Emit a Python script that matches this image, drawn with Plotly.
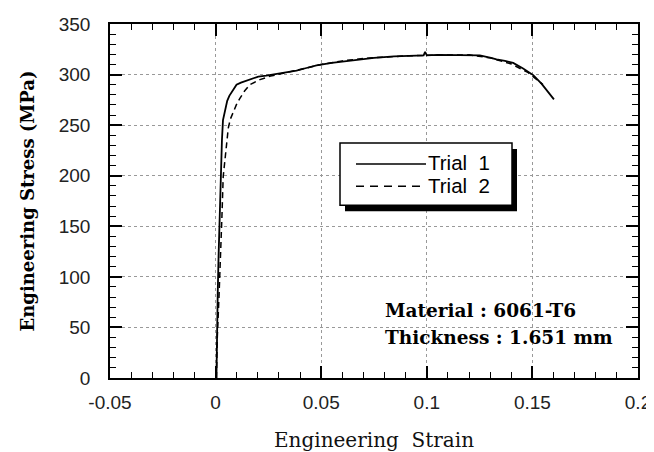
import plotly.graph_objects as go

# ---------------- data ----------------
trial1_strain = [0.0004, 0.0006, 0.001, 0.0014, 0.0018, 0.0022, 0.0026, 0.003, 0.0035,
                 0.0045, 0.0055, 0.0065, 0.0076, 0.0088, 0.0099, 0.012, 0.0147, 0.0175,
                 0.0202, 0.024, 0.0289, 0.0335, 0.0383, 0.043, 0.0478, 0.055, 0.062,
                 0.0681, 0.075, 0.0845, 0.09, 0.0963, 0.0985, 0.0992, 0.1, 0.105, 0.1122,
                 0.1222, 0.1251, 0.1304, 0.133, 0.137, 0.1409, 0.1456, 0.1504, 0.1543,
                 0.1575, 0.1602]
trial1_stress = [0, 40, 83, 120, 150, 185, 215, 235, 255,
                 266, 274, 279, 283, 287, 290, 292, 294, 296,
                 298, 299, 300.5, 302, 304, 306.5, 309, 311.5, 313.5,
                 315, 316.5, 318, 318.5, 318.5, 319, 322.5, 319, 319.5, 319.5,
                 319.5, 319, 316.5, 315, 313.5, 311.5, 306, 299.5, 291,
                 283, 275.5]

trial2_strain = [0.0004, 0.0008, 0.0016, 0.0024, 0.003, 0.0036, 0.0044, 0.0052, 0.006,
                 0.007, 0.0083, 0.0098, 0.0115, 0.0138, 0.0162, 0.021, 0.026, 0.032,
                 0.04, 0.05, 0.06, 0.07, 0.08, 0.09, 0.1, 0.11, 0.12, 0.13, 0.14,
                 0.148, 0.155]
trial2_stress = [0, 40, 80, 120, 160, 199, 217, 233, 247,
                 256, 263, 270, 276.5, 284, 290, 295, 298.5, 301,
                 305, 310, 313.5, 316, 317.5, 318.5, 319, 319.5, 319.5, 316.5, 310.5,
                 302, 290]

x_tick_vals = [-0.05, 0, 0.05, 0.1, 0.15, 0.2]
x_tick_text = ["-0.05", "0", "0.05", "0.1", "0.15", "0.2"]
y_tick_vals = [0, 50, 100, 150, 200, 250, 300, 350]
y_tick_text = ["0", "50", "100", "150", "200", "250", "300", "350"]

series_names = ["Trial 1", "Trial 2"]
note_lines = ["Material : 6061-T6", "Thickness : 1.651 mm"]

# ---------------- layout geometry (screen pixels) ----------------
OFF = 8                      # default page body margin
W, H = 654 - OFF, 452 - OFF  # figure size so it fits the window
L, R, T, B = 110, 638, 24, 377.7   # plot frame in window pixels


def px(xp):
    return (xp - L) / (R - L)


def py(yp):
    return (B - yp) / (B - T)


fig = go.Figure()
fig.add_trace(go.Scatter(x=trial1_strain, y=trial1_stress, mode="lines",
                         name=series_names[0], showlegend=False,
                         line=dict(color="black", width=1.8)))
fig.add_trace(go.Scatter(x=trial2_strain, y=trial2_stress, mode="lines",
                         name=series_names[1], showlegend=False,
                         line=dict(color="black", width=1.5, dash="6px,4px")))

tickfont = dict(family="Liberation Sans", size=19, color="#222")
fig.update_xaxes(range=[-0.05, 0.2], tickvals=x_tick_vals, ticktext=x_tick_text,
                 ticks="inside", ticklen=12, tickwidth=1.5, tickcolor="black",
                 showline=True, linecolor="black", linewidth=1.5, mirror="allticks",
                 showgrid=True, gridcolor="#999", griddash="dot", gridwidth=1,
                 zeroline=False, tickfont=tickfont, ticklabelstandoff=6,
                 automargin=False,
                 minor=dict(ticks="inside", ticklen=6, tickwidth=1.2, dtick=0.01,
                            tickcolor="black", showgrid=False),
                 title=dict(text="Engineering\u00a0\u00a0Strain",
                            font=dict(family="DejaVu Serif", size=20, color="#111"),
                            standoff=22))
fig.update_yaxes(range=[0, 350], tickvals=y_tick_vals, ticktext=y_tick_text,
                 ticks="inside", ticklen=12, tickwidth=1.5, tickcolor="black",
                 showline=True, linecolor="black", linewidth=1.5, mirror="allticks",
                 showgrid=True, gridcolor="#999", griddash="dot", gridwidth=1,
                 zeroline=False, tickfont=tickfont, ticklabelstandoff=14,
                 automargin=False,
                 minor=dict(ticks="inside", ticklen=6, tickwidth=1.2, dtick=10,
                            tickcolor="black", showgrid=False),
                 title=dict(text="<b>Engineering Stress (MPa)</b>",
                            font=dict(family="DejaVu Serif", size=18, color="black"),
                            standoff=19))

shapes = []
# legend shadow and box
shapes.append(dict(type="rect", xref="paper", yref="paper",
                   x0=px(345), x1=px(517), y0=py(211), y1=py(149),
                   fillcolor="black", line=dict(width=0), layer="above"))
shapes.append(dict(type="rect", xref="paper", yref="paper",
                   x0=px(340), x1=px(512), y0=py(205), y1=py(143),
                   fillcolor="white", line=dict(color="black", width=1.5), layer="above"))
shapes.append(dict(type="line", xref="paper", yref="paper",
                   x0=px(356), x1=px(426), y0=py(164), y1=py(164),
                   line=dict(color="black", width=1.5), layer="above"))
shapes.append(dict(type="line", xref="paper", yref="paper",
                   x0=px(356), x1=px(426), y0=py(186), y1=py(186),
                   line=dict(color="black", width=1.5, dash="8px,6px"), layer="above"))

annotations = []
for name, yy in zip(series_names, [162.5, 185.5]):
    annotations.append(dict(xref="paper", yref="paper", x=px(426), y=py(yy),
                            xanchor="left", yanchor="middle", showarrow=False,
                            text=name.replace(" ", "\u00a0\u00a0"),
                            font=dict(family="Liberation Sans", size=20.5, color="black")))
for txt, yy in zip(note_lines, [310, 337]):
    annotations.append(dict(xref="paper", yref="paper", x=px(383), y=py(yy),
                            xanchor="left", yanchor="middle", showarrow=False,
                            text="<b>" + txt + "</b>",
                            font=dict(family="DejaVu Serif", size=18.5, color="black")))

fig.update_layout(width=W, height=H, autosize=False,
                  margin=dict(l=L - OFF, r=(W + OFF) - R, t=T - OFF, b=(H + OFF) - B, pad=0),
                  paper_bgcolor="white", plot_bgcolor="white",
                  shapes=shapes, annotations=annotations, showlegend=False)

fig.write_html("out.html")
